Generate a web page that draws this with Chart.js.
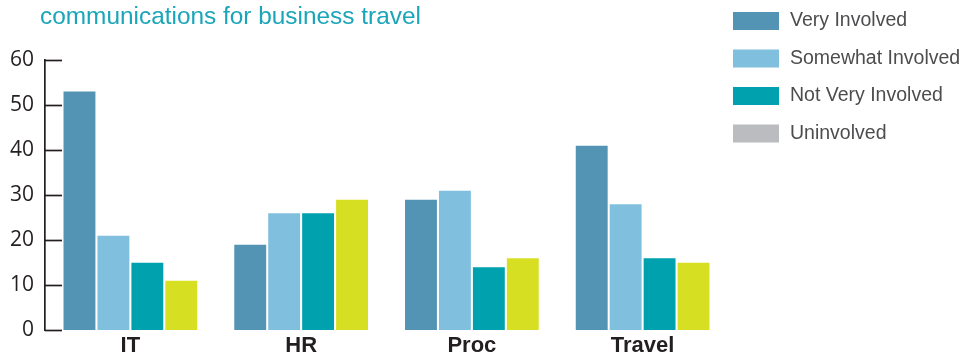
<!DOCTYPE html>
<html>
<head>
<meta charset="utf-8">
<script src="https://cdn.jsdelivr.net/npm/chart.js@4/dist/chart.umd.min.js"></script>
<style>
  html, body { margin: 0; padding: 0; background: #fff; }
  #wrap { width: 971px; height: 354px; position: relative; }
</style>
</head>
<body>
<div id="wrap"><canvas id="chart"></canvas></div>
<script>
// data
const categories = ['IT', 'HR', 'Proc', 'Travel'];
const seriesNames = ['Very Involved', 'Somewhat Involved', 'Not Very Involved', 'Uninvolved'];
const veryInvolved = [53, 19, 29, 41];
const somewhatInvolved = [21, 26, 31, 28];
const notVeryInvolved = [15, 26, 14, 16];
const uninvolved = [11, 29, 16, 15];
const yTicks = [0, 10, 20, 30, 40, 50, 60];
const titleText = 'communications for business travel';

const barColors = ['#5393b3', '#80c0de', '#00a1ae', '#d6df22'];
const legendColors = ['#5393b3', '#80c0de', '#00a1ae', '#bbbcc0']; // legend swatch is grey in the original
const inkColor = '#231f20';

// title + legend + inward tick marks
const decor = {
    id: 'decor',
    afterDraw(chart) {
        const ctx = chart.ctx;
        const yScale = chart.scales.y;
        ctx.save();

        // title (only the second line is visible)
        ctx.fillStyle = '#1aa6b8';
        ctx.font = '24.4px "Liberation Sans", Arial, sans-serif';
        ctx.textAlign = 'left';
        ctx.textBaseline = 'alphabetic';
        ctx.fillText(titleText, 40, 24);

        // small tick marks pointing into the plot
        ctx.strokeStyle = inkColor;
        ctx.lineWidth = 1.7;
        yTicks.forEach(v => {
            const y = Math.round(yScale.getPixelForValue(v)) + 0.5;
            ctx.beginPath();
            ctx.moveTo(chart.chartArea.left, y);
            ctx.lineTo(chart.chartArea.left + 17, y);
            ctx.stroke();
        });

        // legend
        ctx.font = '19.5px "Liberation Sans", Arial, sans-serif';
        ctx.textBaseline = 'middle';
        seriesNames.forEach((name, i) => {
            const cy = 21 + i * 37.5;
            ctx.fillStyle = legendColors[i];
            ctx.fillRect(733, cy - 9, 46, 18);
            ctx.fillStyle = '#4d4d4f';
            ctx.fillText(name, 790, cy);
        });
        ctx.restore();
    }
};

const seriesValues = [veryInvolved, somewhatInvolved, notVeryInvolved, uninvolved];

new Chart(document.getElementById('chart'), {
    type: 'bar',
    data: {
        labels: categories,
        datasets: seriesNames.map((name, i) => ({
            label: name,
            data: seriesValues[i],
            backgroundColor: barColors[i],
            categoryPercentage: 0.795,
            barPercentage: 0.94
        }))
    },
    options: {
        responsive: true,
        maintainAspectRatio: false,
        animation: false,
        layout: {
            padding: { top: 60, right: 243, bottom: 0, left: 0 }
        },
        plugins: {
            legend: { display: false },
            tooltip: { enabled: false }
        },
        scales: {
            x: {
                grid: { display: false, drawTicks: false },
                border: { display: false },
                ticks: {
                    color: inkColor,
                    padding: 2,
                    font: { family: '"Liberation Sans", Arial, sans-serif', size: 22, weight: 'bold' }
                },
                afterFit: s => { s.height = 23; }
            },
            y: {
                min: 0,
                max: 60,
                grid: { display: true, drawOnChartArea: false, drawTicks: false },
                border: { display: true, color: inkColor, width: 1.7 },
                ticks: {
                    stepSize: 10,
                    color: inkColor,
                    padding: 11,
                    font: { family: '"Open Sans", sans-serif', size: 21, weight: 500 }
                },
                afterFit: s => { s.width = 45; }
            }
        }
    },
    plugins: [decor]
});
</script>
</body>
</html>
